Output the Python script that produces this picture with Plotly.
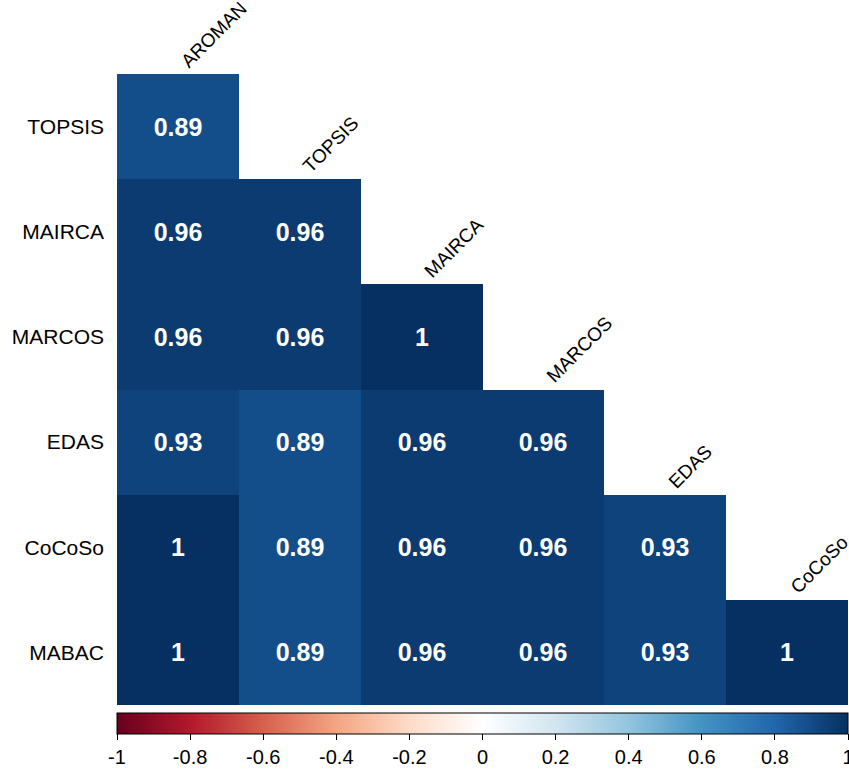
import plotly.graph_objects as go

row_labels = ["TOPSIS", "MAIRCA", "MARCOS", "EDAS", "CoCoSo", "MABAC"]
col_labels = ["AROMAN", "TOPSIS", "MAIRCA", "MARCOS", "EDAS", "CoCoSo"]

row_topsis = [0.89]
row_mairca = [0.96, 0.96]
row_marcos = [0.96, 0.96, 1]
row_edas = [0.93, 0.89, 0.96, 0.96]
row_cocoso = [1, 0.89, 0.96, 0.96, 0.93]
row_mabac = [1, 0.89, 0.96, 0.96, 0.93, 1]

rows = [row_topsis, row_mairca, row_marcos, row_edas, row_cocoso, row_mabac]
colorbar_ticks = [-1, -0.8, -0.6, -0.4, -0.2, 0, 0.2, 0.4, 0.6, 0.8, 1]

n = len(col_labels)
z = []
txt = []
for r in rows:
    zr = list(r) + [None] * (n - len(r))
    z.append(zr)
    txt.append([("" if v is None else (f"{v:g}")) for v in zr])

pal = ["#67001F", "#B2182B", "#D6604D", "#F4A582", "#FDDBC7", "#FFFFFF",
       "#D1E5F0", "#92C5DE", "#4393C3", "#2166AC", "#053061"]
cscale = [[i / (len(pal) - 1), c] for i, c in enumerate(pal)]

W, H = 849, 774
ML, MR, MT, MB = 117, 1, 74, 69
plot_h = H - MT - MB

fig = go.Figure(go.Heatmap(
    z=z, x=list(range(n)), y=list(range(n)),
    text=txt, texttemplate="<b>%{text}</b>",
    textfont=dict(family="Arial", size=25, color="white"),
    colorscale=cscale, zmin=-1, zmax=1,
    hoverongaps=False,
    colorbar=dict(
        orientation="h", x=0.5, xanchor="center", y=-8 / plot_h, yanchor="top",
        len=1.0, lenmode="fraction", thickness=21, thicknessmode="pixels",
        outlinecolor="black", outlinewidth=1,
        tickvals=colorbar_ticks, ticktext=[f"{t:g}" for t in colorbar_ticks],
        ticks="outside", ticklen=6, tickcolor="black",
        ticklabeloverflow="allow",
        tickfont=dict(family="Arial", size=20, color="black"),
        xpad=0, ypad=0,
    ),
))

for j, lab in enumerate(col_labels):
    fig.add_annotation(
        x=j - 0.03, y=j - 0.5, text=lab, showarrow=False, textangle=-45,
        xanchor="left", yanchor="bottom",
        font=dict(family="Arial", size=19, color="black"),
    )

fig.update_layout(
    width=W, height=H,
    margin=dict(l=ML, r=MR, t=MT, b=MB, autoexpand=False),
    paper_bgcolor="white", plot_bgcolor="white",
    xaxis=dict(range=[-0.5, n - 0.5], showticklabels=False, showgrid=False,
               zeroline=False, showline=False, ticks=""),
    yaxis=dict(range=[n - 0.5, -0.5], tickvals=list(range(n)), ticktext=row_labels,
               showgrid=False, zeroline=False, showline=False, ticks="",
               ticklabelstandoff=12,
               tickfont=dict(family="Arial", size=21, color="black")),
    showlegend=False,
)

fig.write_html(
    "out.html",
    config={"displayModeBar": False},
    post_script="document.body.style.margin='0';document.body.style.overflow='hidden';"
                "document.documentElement.style.overflow='hidden';",
)
